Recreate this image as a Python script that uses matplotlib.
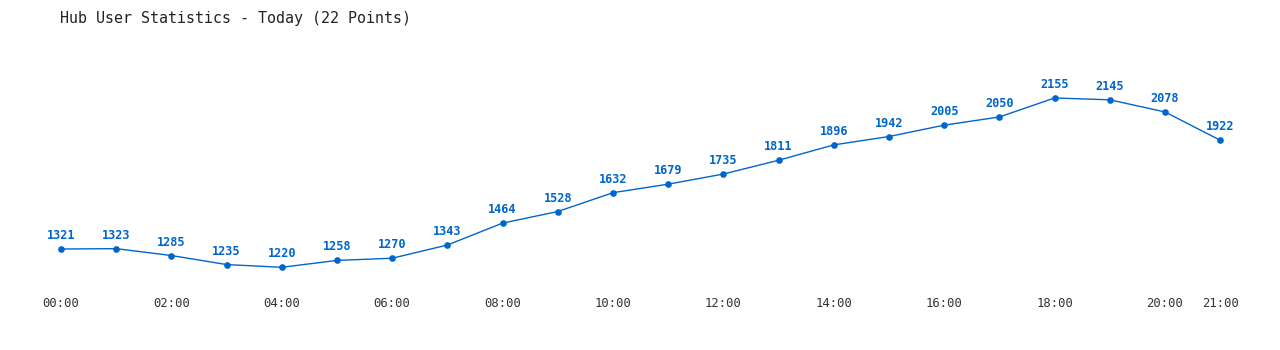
import matplotlib
matplotlib.use("Agg")
import matplotlib.pyplot as plt

hours = list(range(22))
users = [1321, 1323, 1285, 1235, 1220, 1258, 1270, 1343, 1464, 1528, 1632,
         1679, 1735, 1811, 1896, 1942, 2005, 2050, 2155, 2145, 2078, 1922]
tick_hours = [0, 2, 4, 6, 8, 10, 12, 14, 16, 18, 20, 21]
tick_labels = ["%02d:00" % h for h in tick_hours]
title = "Hub User Statistics - Today (22 Points)"

W, H = 1280, 350
fig = plt.figure(figsize=(W / 100, H / 100), dpi=100)
# axes spanning pixel x 40..1240, y 50..290
ax = fig.add_axes([40 / W, 1 - 290 / H, 1200 / W, 240 / H])
blue = "#0066cc"
ax.plot(hours, users, color=blue, lw=1.0, marker="o", markersize=4.8,
        markeredgewidth=0)
for h, v in zip(hours, users):
    ax.annotate(str(v), (h, v), xytext=(0, 5), textcoords="offset points",
                ha="center", va="bottom", color=blue, fontsize=8.6,
                fontweight="bold", family="DejaVu Sans Mono")
ax.set_xlim(-0.38, 21.36)
ax.set_ylim(1094.6, 2420)
ax.set_xticks(tick_hours)
ax.set_xticklabels(tick_labels, family="DejaVu Sans Mono", fontsize=8.8,
                   color="#333333")
ax.tick_params(axis="x", length=0, pad=5)
ax.set_yticks([])
for s in ax.spines.values():
    s.set_visible(False)
fig.text(60 / W, 1 - 18 / H, title, family="DejaVu Sans Mono", fontsize=10.8,
         color="#222222", ha="left", va="center")
fig.savefig("out.png", dpi=100, facecolor="white")
